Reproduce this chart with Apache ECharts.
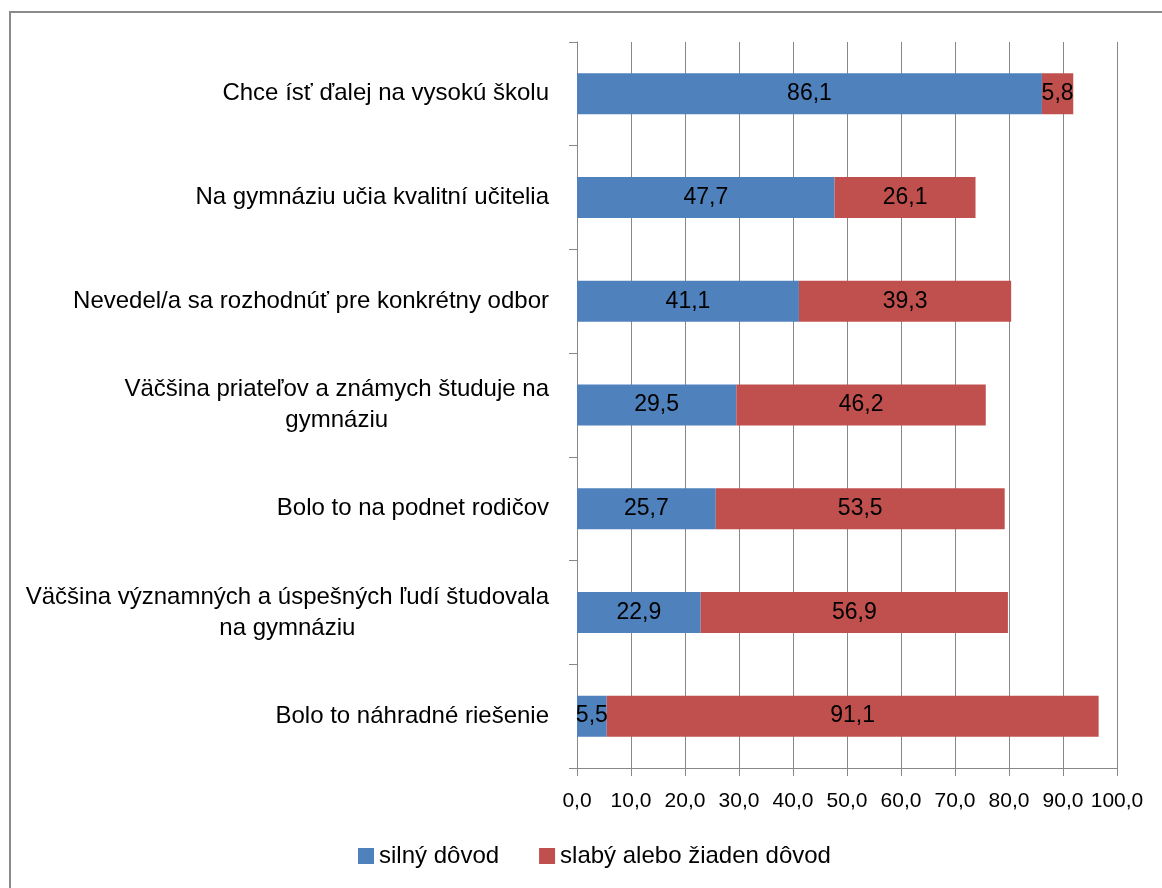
<!DOCTYPE html>
<html>
<head>
<meta charset="utf-8">
<script src="https://cdn.jsdelivr.net/npm/echarts@6/dist/echarts.min.js"></script>
<style>
    html, body {margin: 0; padding: 0; background: #fff;}
    #chart {width: 1162px; height: 888px;}
</style>
</head>
<body>
<div id="chart"></div>
<script>
var categories = [
    'Chce ísť ďalej na vysokú školu',
    'Na gymnáziu učia kvalitní učitelia',
    'Nevedel/a sa rozhodnúť pre konkrétny odbor',
    'Väčšina priateľov a známych študuje na\ngymnáziu',
    'Bolo to na podnet rodičov',
    'Väčšina významných a úspešných ľudí študovala\nna gymnáziu',
    'Bolo to náhradné riešenie'
];
var silnyDovod = [86.1, 47.7, 41.1, 29.5, 25.7, 22.9, 5.5];
var slabyDovod = [5.8, 26.1, 39.3, 46.2, 53.5, 56.9, 91.1];
var seriesNames = ['silný dôvod', 'slabý alebo žiaden dôvod'];

var fontName = 'Liberation Sans';
var gridColor = '#888888';

function comma(v) {
    return Number(v).toFixed(1).replace('.', ',');
}

var myChart = echarts.init(document.getElementById('chart'));
myChart.setOption({
    animation: false,
    textStyle: {fontFamily: fontName, color: '#000'},
    graphic: [{
        type: 'rect',
        shape: {x: 10, y: 12, width: 1300, height: 1000},
        style: {fill: 'none', stroke: '#8a8a8a', lineWidth: 2},
        silent: true
    }],
    grid: {
        left: 577,
        right: 45,
        top: 42,
        bottom: 120
    },
    legend: {
        left: 353,
        top: 839,
        itemWidth: 16,
        itemHeight: 16,
        itemGap: 40,
        icon: 'rect',
        textStyle: {fontFamily: fontName, fontSize: 24, color: '#000'},
        data: seriesNames
    },
    xAxis: {
        type: 'value',
        min: 0,
        max: 100,
        interval: 10,
        axisLine: {show: true, lineStyle: {color: gridColor, width: 1}},
        axisTick: {show: true, length: 8, lineStyle: {color: gridColor}},
        splitLine: {show: true, lineStyle: {color: gridColor, width: 1}},
        axisLabel: {
            margin: 23,
            fontSize: 21,
            color: '#000',
            formatter: comma
        }
    },
    yAxis: {
        type: 'category',
        inverse: true,
        data: categories,
        axisLine: {show: true, lineStyle: {color: gridColor, width: 1}},
        axisTick: {show: true, length: 8, lineStyle: {color: gridColor}},
        axisLabel: {
            margin: 28,
            fontSize: 24,
            color: '#000',
            lineHeight: 31,
            formatter: function (value) {
                return value.split('\n').map(function (l) {
                    return '{c|' + l + '}';
                }).join('\n');
            },
            rich: {
                c: {align: 'center', fontSize: 24, lineHeight: 31, fontFamily: fontName, color: '#000'}
            }
        }
    },
    series: [{
        name: seriesNames[0],
        type: 'bar',
        stack: 'total',
        barWidth: 41,
        itemStyle: {color: '#4F81BD'},
        label: {
            show: true,
            position: 'inside',
            color: '#000',
            fontSize: 23,
            formatter: function (p) { return comma(p.value); }
        },
        data: silnyDovod
    }, {
        name: seriesNames[1],
        type: 'bar',
        stack: 'total',
        barWidth: 41,
        itemStyle: {color: '#C0504D'},
        label: {
            show: true,
            position: 'inside',
            color: '#000',
            fontSize: 23,
            formatter: function (p) { return comma(p.value); }
        },
        data: slabyDovod
    }]
});
</script>
</body>
</html>
